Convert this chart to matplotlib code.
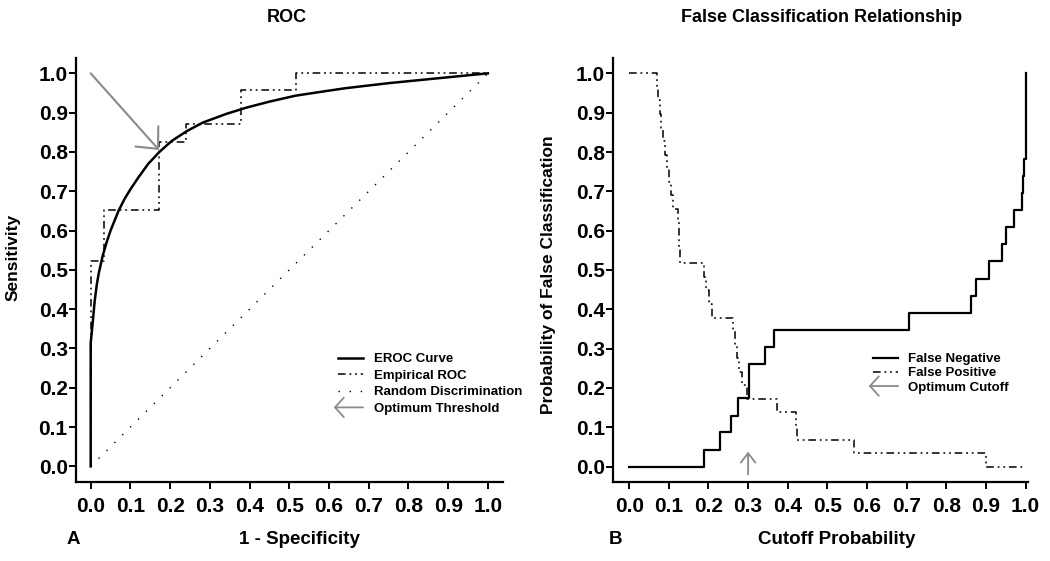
import numpy as np
import matplotlib
matplotlib.use('Agg')
import matplotlib.pyplot as plt
from matplotlib.patches import FancyArrowPatch
from matplotlib.legend_handler import HandlerBase

plt.rcParams['font.family'] = ['Liberation Sans', 'DejaVu Sans']

# ---- panel A: ROC ----
eroc_fpr = [0.0, 0.0, 0.005, 0.010, 0.015, 0.020, 0.030, 0.040, 0.050, 0.060,
            0.070, 0.085, 0.100, 0.120, 0.145, 0.174, 0.204, 0.242, 0.283, 0.342,
            0.393, 0.450, 0.515, 0.580, 0.640, 0.750, 0.860, 0.930, 1.0]
eroc_tpr = [0.0, 0.314, 0.365, 0.420, 0.460, 0.490, 0.535, 0.570, 0.600, 0.625,
            0.650, 0.680, 0.705, 0.735, 0.770, 0.801, 0.828, 0.853, 0.875, 0.897,
            0.913, 0.928, 0.943, 0.953, 0.962, 0.975, 0.986, 0.993, 1.0]

emp_fpr = [0.0, 0.0, 0.0345, 0.172, 0.241, 0.379, 0.517, 1.0]
emp_tpr = [0.0, 0.522, 0.652, 0.826, 0.870, 0.957, 1.0, 1.0]

rand_x = [0.0, 1.0]
rand_y = [0.0, 1.0]

opt_start = (0.0, 1.0)
opt_point = (0.172, 0.805)

# ---- panel B: false classification ----
fn_cut = [0.0, 0.189, 0.228, 0.257, 0.274, 0.303, 0.343, 0.366, 0.706, 0.861,
          0.874, 0.908, 0.941, 0.950, 0.971, 0.990, 0.993, 0.996, 1.0]
fn_val = [0.0, 0.043, 0.087, 0.130, 0.174, 0.261, 0.304, 0.348, 0.391, 0.435,
          0.478, 0.522, 0.565, 0.609, 0.652, 0.696, 0.739, 0.783, 1.0]

fp_cut = [0.0, 0.070, 0.073, 0.077, 0.081, 0.085, 0.090, 0.095, 0.100, 0.105,
          0.110, 0.124, 0.125, 0.126, 0.128, 0.190, 0.195, 0.201, 0.210, 0.263,
          0.267, 0.271, 0.276, 0.285, 0.297, 0.372, 0.420, 0.424, 0.566, 0.900,
          1.0]
fp_val = [1.0, 0.966, 0.931, 0.897, 0.862, 0.828, 0.793, 0.759, 0.724, 0.690,
          0.655, 0.621, 0.586, 0.552, 0.517, 0.483, 0.448, 0.414, 0.379, 0.345,
          0.310, 0.276, 0.241, 0.207, 0.172, 0.138, 0.103, 0.069, 0.034, 0.0,
          0.0]

opt_cutoff = 0.30

ticks = np.round(np.arange(0, 1.01, 0.1), 1)
tick_labels = ['%.1f' % t for t in ticks]

GRAY = '#8a8a8a'
DASHDOT = (0, (5, 2.5, 1.2, 2.5, 1.2, 2.5))


class HandlerArrow(HandlerBase):
    def create_artists(self, legend, orig_handle, xdescent, ydescent,
                       width, height, fontsize, trans):
        y = height / 2 - ydescent
        a = FancyArrowPatch((width - xdescent, y), (-xdescent - 3, y),
                            arrowstyle='->,head_length=0.45,head_width=0.5',
                            mutation_scale=14, color=GRAY, lw=1.3,
                            shrinkA=0, shrinkB=0)
        a.set_transform(trans)
        return [a]


def style_axes(ax, xlim):
    ax.set_xlim(*xlim)
    ax.set_ylim(-0.039, 1.039)
    ax.spines['top'].set_visible(False)
    ax.spines['right'].set_visible(False)
    for s in ('left', 'bottom'):
        ax.spines[s].set_linewidth(1.6)
    ax.set_xticks(ticks)
    ax.set_yticks(ticks)
    ax.set_xticklabels(tick_labels)
    ax.set_yticklabels(tick_labels)
    ax.tick_params(axis='both', length=5, width=1.4, direction='out',
                   labelsize=15)
    ax.tick_params(axis='x', pad=6)
    ax.tick_params(axis='y', pad=1)
    for lab in ax.get_xticklabels() + ax.get_yticklabels():
        lab.set_fontweight('bold')


fig = plt.figure(figsize=(10.5, 5.61), dpi=100)
W, H = 1050.0, 561.0

ax1 = fig.add_axes([76 / W, 1 - 481.7 / H, (503 - 76) / W, (481.7 - 58) / H])
ax2 = fig.add_axes([613.3 / W, 1 - 482 / H, (1028 - 613.3) / W, (482 - 58) / H])

# panel A
ax1.plot(eroc_fpr, eroc_tpr, color='black', lw=1.8, solid_joinstyle='round',
         label='EROC Curve')
ax1.plot(emp_fpr, emp_tpr, color='black', lw=1.1, ls=DASHDOT,
         drawstyle='steps-post', label='Empirical ROC')
ax1.plot(rand_x, rand_y, color='black', lw=1.0, ls=(0, (1, 7)),
         label='Random Discrimination')
ax1.annotate('', xy=opt_point, xytext=opt_start,
             arrowprops=dict(arrowstyle='->,head_length=0.6,head_width=0.55',
                             mutation_scale=20, color=GRAY, lw=1.5,
                             shrinkA=0, shrinkB=0))
style_axes(ax1, (-0.037, 1.038))

arrow_proxy1 = FancyArrowPatch((0, 0), (1, 0))
h1, l1 = ax1.get_legend_handles_labels()
leg1 = ax1.legend(h1 + [arrow_proxy1], l1 + ['Optimum Threshold'],
                  handler_map={arrow_proxy1: HandlerArrow()},
                  loc='upper left', bbox_to_anchor=(338 / W, 1 - 353 / H),
                  bbox_transform=fig.transFigure, frameon=False,
                  borderpad=0, borderaxespad=0, handlelength=1.9,
                  handletextpad=0.85, labelspacing=0.33,
                  prop=dict(size=9.5, weight='bold'))

# panel B
ax2.plot(fn_cut, fn_val, color='black', lw=1.6, drawstyle='steps-post',
         label='False Negative')
ax2.plot(fp_cut, fp_val, color='black', lw=1.1, ls=DASHDOT,
         drawstyle='steps-post', label='False Positive')
ax2.annotate('', xy=(opt_cutoff, 0.038), xytext=(opt_cutoff, -0.02),
             arrowprops=dict(arrowstyle='->,head_length=0.45,head_width=0.35',
                             mutation_scale=15, color=GRAY, lw=1.3,
                             shrinkA=0, shrinkB=0),
             annotation_clip=False)
style_axes(ax2, (-0.04, 1.006))

arrow_proxy2 = FancyArrowPatch((0, 0), (1, 0))
h2, l2 = ax2.get_legend_handles_labels()
leg2 = ax2.legend(h2 + [arrow_proxy2], l2 + ['Optimum Cutoff'],
                  handler_map={arrow_proxy2: HandlerArrow()},
                  loc='upper left', bbox_to_anchor=(873 / W, 1 - 353 / H),
                  bbox_transform=fig.transFigure, frameon=False,
                  borderpad=0, borderaxespad=0, handlelength=1.9,
                  handletextpad=0.75, labelspacing=0.15,
                  prop=dict(size=9.5, weight='bold'))

# titles and labels
fig.text(287 / W, 1 - 18 / H, 'ROC', ha='center', va='center',
         fontsize=13, fontweight='bold')
fig.text(822 / W, 1 - 18 / H, 'False Classification Relationship',
         ha='center', va='center', fontsize=13, fontweight='bold')
fig.text(299 / W, 1 - 540 / H, '1 - Specificity', ha='center', va='center',
         fontsize=13.5, fontweight='bold')
fig.text(837 / W, 1 - 540 / H, 'Cutoff Probability', ha='center', va='center',
         fontsize=13.5, fontweight='bold')
fig.text(73 / W, 1 - 540 / H, 'A', ha='center', va='center',
         fontsize=13.5, fontweight='bold')
fig.text(615 / W, 1 - 540 / H, 'B', ha='center', va='center',
         fontsize=13.5, fontweight='bold')
fig.text(13 / W, 1 - 257 / H, 'Sensitivity', ha='center', va='center',
         rotation=90, fontsize=12.5, fontweight='bold')
fig.text(549 / W, 1 - 275 / H, 'Probability of False Classification',
         ha='center', va='center', rotation=90, fontsize=12.5,
         fontweight='bold')

fig.savefig('out.png', dpi=100)
